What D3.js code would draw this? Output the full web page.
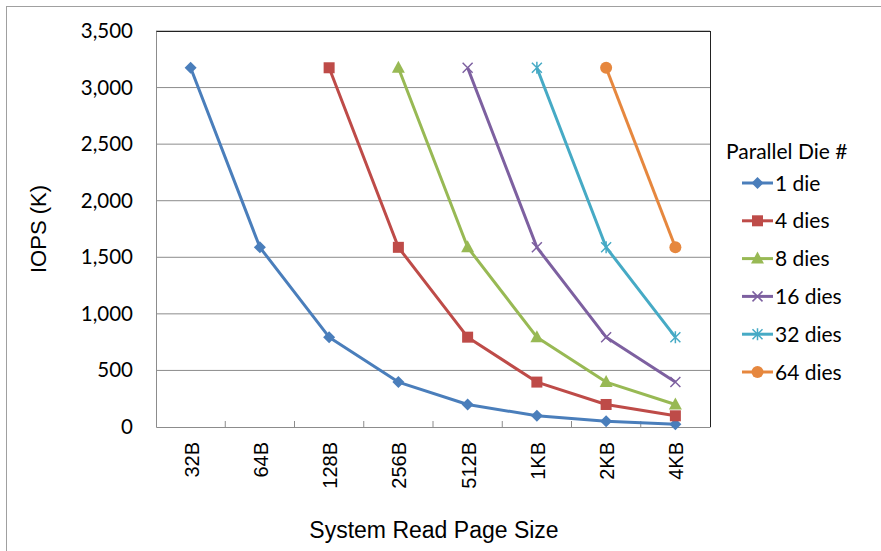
<!DOCTYPE html>
<html><head><meta charset="utf-8">
<script src="https://cdn.jsdelivr.net/npm/d3@7"></script>
<style>body{margin:0;background:#fff}</style>
</head><body>
<svg id="c" width="881" height="551"></svg>
<script>
const categories = ["32B","64B","128B","256B","512B","1KB","2KB","4KB"];
const seriesNames = ["1 die","4 dies","8 dies","16 dies","32 dies","64 dies"];
const die1  = [3175,1588,794,397,199,99,50,25];
const die4  = [null,null,3175,1588,794,397,199,99];
const die8  = [null,null,null,3175,1588,794,397,199];
const die16 = [null,null,null,null,3175,1588,794,397];
const die32 = [null,null,null,null,null,3175,1588,794];
const die64 = [null,null,null,null,null,null,3175,1588];
const yTicks = [0,500,1000,1500,2000,2500,3000,3500];
const colors = ["#4A7EBB","#BE4B48","#98B954","#7D60A0","#46AAC5","#E6873E"];
const markers = ["diamond","square","triangle","x","star","circle"];
const allSeries = [die1,die4,die8,die16,die32,die64];

const svg = d3.select("#c");
const L=156,T=31,R=710,B=427;
svg.append("rect").attr("x",6.5).attr("y",6.5).attr("width",900).attr("height",600)
  .attr("fill","#fff").attr("stroke","#a0a0a0");

const x = d3.scaleBand().domain(categories).range([L,R]);
const y = d3.scaleLinear().domain([0,3500]).range([B,T]);

// gridlines
svg.append("g").selectAll("line").data(yTicks.filter(d=>d>0)).join("line")
  .attr("x1",L).attr("x2",R).attr("y1",d=>y(d)).attr("y2",d=>y(d))
  .attr("stroke","#8c8c8c").attr("stroke-width",1);
// plot border top/right
svg.append("line").attr("x1",L).attr("x2",R+0.5).attr("y1",T+0.5).attr("y2",T+0.5).attr("stroke","#222");
svg.append("line").attr("x1",R+0.5).attr("x2",R+0.5).attr("y1",T).attr("y2",B).attr("stroke","#222");

// y axis
const yAxis = d3.axisLeft(y).tickValues(yTicks).tickSize(0).tickPadding(23)
  .tickFormat(d3.format(","));
const gy = svg.append("g").attr("transform",`translate(${L},0)`).call(yAxis);
gy.select(".domain").attr("stroke","#8c8c8c");
gy.selectAll("text").attr("font-family","Lato, 'Open Sans', sans-serif").attr("font-size",20.5).attr("fill","#000");

// x axis
const xAxis = d3.axisBottom(x).tickSize(0).tickPadding(0);
const gx = svg.append("g").attr("transform",`translate(0,${B})`).call(xAxis);
gx.select(".domain").attr("stroke","#8c8c8c");
gx.selectAll(".tick text").attr("font-family","'Liberation Sans', Arial, sans-serif").attr("font-size",20)
  .attr("fill","#000").attr("transform","rotate(-90)").attr("text-anchor","end")
  .attr("x",-15).attr("y",1).attr("dy","0.35em");
// boundary tick marks (pointing up)
svg.append("g").selectAll("line").data(categories.slice(1)).join("line")
  .attr("x1",d=>x(d)).attr("x2",d=>x(d)).attr("y1",B).attr("y2",B-6).attr("stroke","#8c8c8c");

// axis titles
svg.append("text").attr("transform",`translate(46,${(T+B)/2}) rotate(-90)`).attr("text-anchor","middle")
  .attr("font-family","'Liberation Sans', Arial, sans-serif").attr("font-size",22).text("IOPS (K)");
svg.append("text").attr("x",434).attr("y",538).attr("text-anchor","middle")
  .attr("font-family","'Liberation Sans', Arial, sans-serif").attr("font-size",23).text("System Read Page Size");

function drawMarker(g,type,color,cx,cy){
  if(type==="diamond") g.append("path").attr("d",`M${cx},${cy-6}L${cx+6},${cy}L${cx},${cy+6}L${cx-6},${cy}Z`).attr("fill",color);
  else if(type==="square") g.append("rect").attr("x",cx-5.5).attr("y",cy-5.5).attr("width",11).attr("height",11).attr("fill",color);
  else if(type==="triangle") g.append("path").attr("d",`M${cx},${cy-7}L${cx+6.5},${cy+5}L${cx-6.5},${cy+5}Z`).attr("fill",color);
  else if(type==="x") g.append("path").attr("d",`M${cx-5},${cy-5}L${cx+5},${cy+5}M${cx-5},${cy+5}L${cx+5},${cy-5}`).attr("stroke",color).attr("stroke-width",1.5);
  else if(type==="star") g.append("path").attr("d",`M${cx-5},${cy-5}L${cx+5},${cy+5}M${cx-5},${cy+5}L${cx+5},${cy-5}M${cx},${cy-6}L${cx},${cy+6}`).attr("stroke",color).attr("stroke-width",1.5);
  else if(type==="circle") g.append("circle").attr("cx",cx).attr("cy",cy).attr("r",6).attr("fill",color);
}

const cx = d=>x(d)+x.bandwidth()/2;
allSeries.forEach((vals,i)=>{
  const pts = categories.map((c,j)=>({c,v:vals[j]})).filter(p=>p.v!=null);
  const g = svg.append("g");
  g.append("path").datum(pts).attr("fill","none").attr("stroke",colors[i]).attr("stroke-width",3)
    .attr("stroke-linejoin","round")
    .attr("d",d3.line().x(p=>cx(p.c)).y(p=>y(p.v)));
  pts.forEach(p=>drawMarker(g,markers[i],colors[i],cx(p.c),y(p.v)));
});

// legend
const lg = svg.append("g");
lg.append("text").attr("x",726).attr("y",159).attr("font-family","Lato, 'Open Sans', sans-serif")
  .attr("font-size",21).text("Parallel Die #");
seriesNames.forEach((n,i)=>{
  const yy = 183 + i*37.8;
  lg.append("line").attr("x1",742).attr("x2",773).attr("y1",yy).attr("y2",yy).attr("stroke",colors[i]).attr("stroke-width",3);
  drawMarker(lg,markers[i],colors[i],757.5,yy);
  lg.append("text").attr("x",775).attr("y",yy).attr("dy","0.36em").attr("font-family","Lato, 'Open Sans', sans-serif")
    .attr("font-size",21).text(n);
});
</script>
</body></html>
